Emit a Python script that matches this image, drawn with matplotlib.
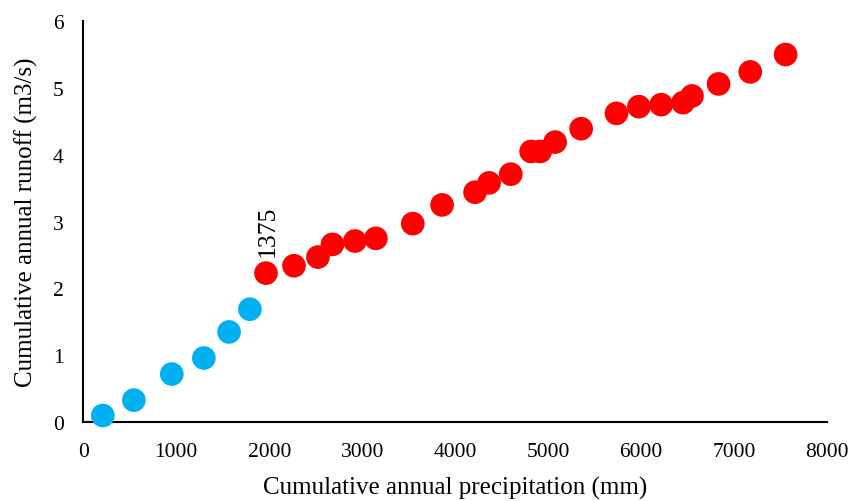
import matplotlib
matplotlib.use("Agg")
from matplotlib import pyplot as plt

# cumulative precipitation (mm) vs cumulative runoff (m3/s), double mass curve
blue_x = [210, 544, 952, 1297, 1568, 1792]
blue_y = [0.10, 0.33, 0.72, 0.96, 1.35, 1.69]

red_x = [1965, 2266, 2524, 2680, 2922, 3147, 3544, 3859, 4214, 4365, 4598,
         4817, 4914, 5075, 5355, 5735, 5976, 6216, 6450, 6547, 6833, 7174, 7554]
red_y = [2.23, 2.34, 2.47, 2.66, 2.71, 2.75, 2.97, 3.25, 3.44, 3.58, 3.71,
         4.05, 4.05, 4.19, 4.39, 4.62, 4.72, 4.75, 4.78, 4.88, 5.06, 5.24, 5.50]

x_ticks = [0, 1000, 2000, 3000, 4000, 5000, 6000, 7000, 8000]
y_ticks = [0, 1, 2, 3, 4, 5, 6]

plt.rcParams['font.family'] = ['Liberation Serif', 'DejaVu Serif']

fig = plt.figure(figsize=(8.5, 5.02), dpi=100)
ax = fig.add_axes([0.098, 0.157, 0.875, 0.799])

ax.scatter(blue_x, blue_y, s=290, color='#00B0F0', edgecolors='none', zorder=3, clip_on=False)
ax.scatter(red_x, red_y, s=290, color='#FF0000', edgecolors='none', zorder=3, clip_on=False)

# change point label
ax.text(red_x[0] + 20, red_y[0] + 0.26, '1375', rotation=90, ha='center', va='bottom', fontsize=18.5)

ax.set_xlim(0, 8000)
ax.set_ylim(0, 6)
ax.set_xticks(x_ticks)
ax.set_yticks(y_ticks)
ax.tick_params(length=0, labelsize=15.5, pad=14)

for s in ['top', 'right']:
    ax.spines[s].set_visible(False)
for s in ['left', 'bottom']:
    ax.spines[s].set_linewidth(1.5)
    ax.spines[s].set_color('black')

ax.set_xlabel('Cumulative annual precipitation (mm)', fontsize=18, labelpad=11)
ax.set_ylabel('Cumulative annual runoff (m3/s)', fontsize=18, labelpad=11)

fig.savefig('out.png', dpi=100)
